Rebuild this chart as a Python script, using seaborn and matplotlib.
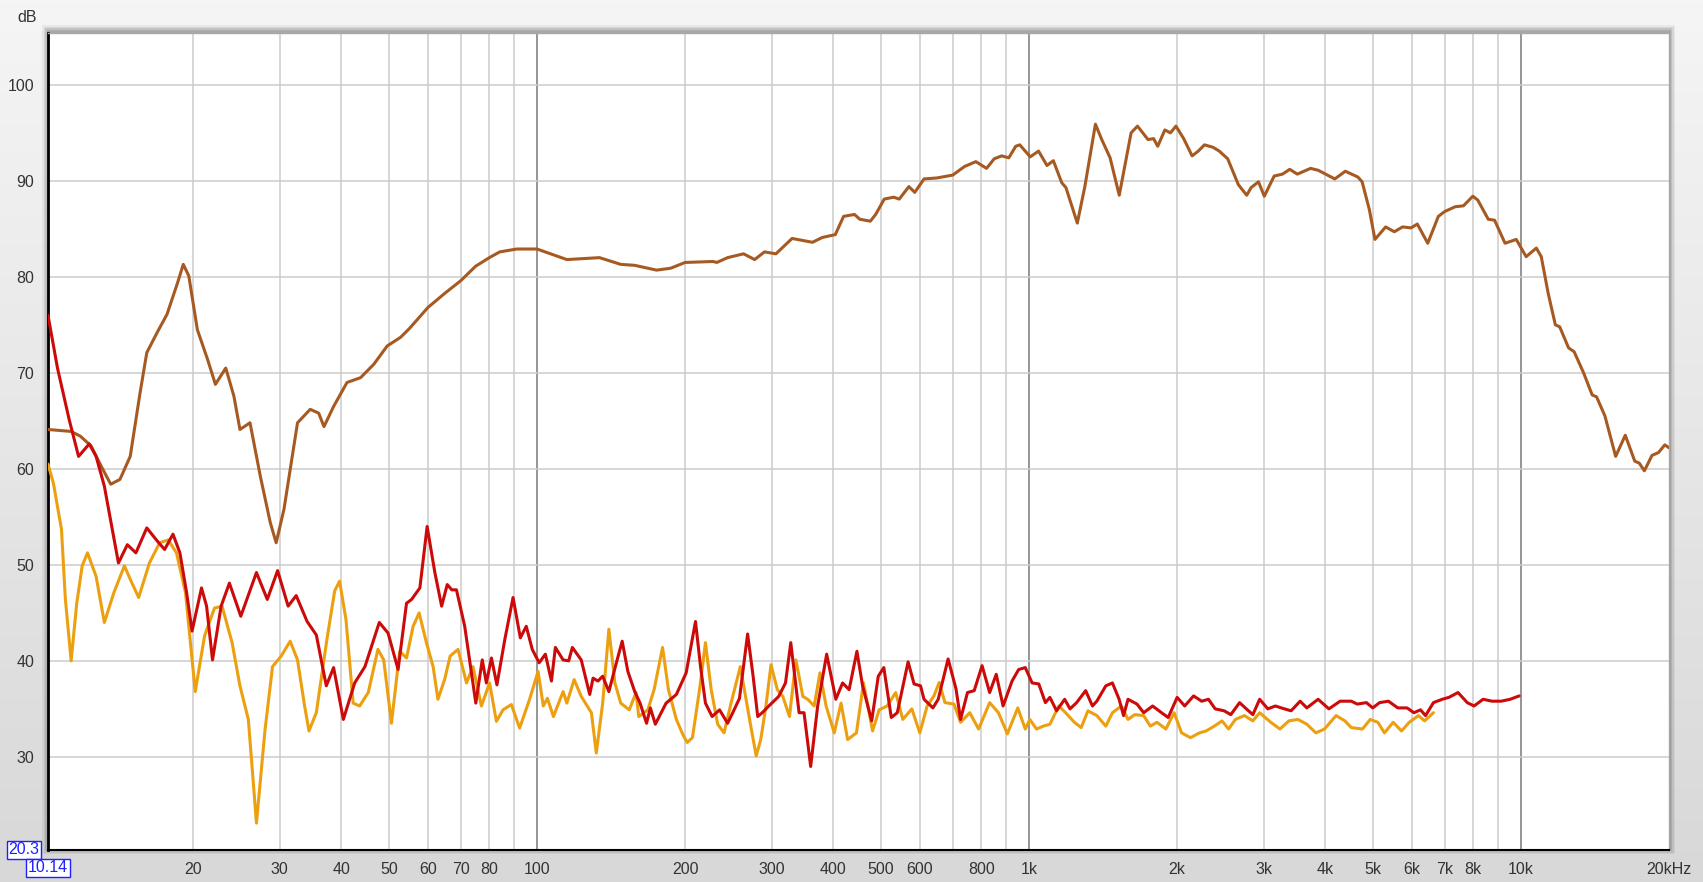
import numpy as np
import pandas as pd
import matplotlib
matplotlib.use("Agg")
import matplotlib.pyplot as plt
import seaborn as sns

# Frequency response curves (Hz, dB)
brown_freq = [10.14, 11.3, 11.8, 12.4, 13.0, 13.6, 14.2, 14.9, 15.6, 16.1, 16.9, 17.7, 18.6, 19.1,
              19.6, 20.4, 21.4, 22.2, 23.3, 24.2, 24.9, 26.1, 27.4, 28.7, 29.5, 30.6, 32.6, 34.6,
              36.0, 36.9, 38.6, 41.1, 43.8, 46.6, 49.6, 52.8, 55, 60, 65, 70, 75, 80, 84,
              91, 100, 115, 134, 148, 158, 175, 187, 200, 228, 232, 244, 263, 277, 290, 306,
              330, 363, 380, 404, 420, 442, 453, 476, 488, 508, 531, 545, 570, 586, 612, 650,
              700, 740, 780, 820, 850, 880, 910, 940, 958, 1006, 1046, 1088, 1121, 1166, 1189,
              1254, 1299, 1365, 1406, 1462, 1526, 1613, 1662, 1746, 1792, 1827, 1889, 1939,
              1990, 2063, 2146, 2209, 2274, 2366, 2437, 2535, 2665, 2771, 2829, 2928, 3009,
              3151, 3276, 3389, 3512, 3737, 3873, 4185, 4396, 4662, 4756, 4920, 5050, 5310,
              5530, 5747, 5980, 6158, 6466, 6795, 6997, 7349, 7643, 7984, 8172, 8583, 8840,
              9285, 9786, 10247, 10750, 11000, 11360, 11750, 11990, 12500, 12830, 13410,
              13960, 14250, 14820, 15580, 16300, 17040, 17400, 17820, 18470, 19040, 19610, 20000]
brown_db = [64.1, 63.9, 63.4, 62.4, 60.3, 58.4, 58.9, 61.3, 67.9, 72.1, 74.2, 76.1, 79.4, 81.3,
            80.1, 74.5, 71.4, 68.8, 70.5, 67.6, 64.1, 64.8, 59.2, 54.4, 52.3, 55.8, 64.8, 66.2,
            65.8, 64.4, 66.5, 69.0, 69.5, 70.9, 72.8, 73.7, 74.6, 76.8, 78.3, 79.6, 81.1, 82.0, 82.6,
            82.9, 82.9, 81.8, 82.0, 81.3, 81.2, 80.7, 80.9, 81.5, 81.6, 81.5, 82.0, 82.4, 81.8, 82.6, 82.4,
            84.0, 83.6, 84.1, 84.4, 86.3, 86.5, 86.0, 85.8, 86.5, 88.1, 88.3, 88.1, 89.4, 88.8, 90.2, 90.3,
            90.6, 91.5, 92.0, 91.3, 92.3, 92.6, 92.4, 93.6, 93.75, 92.5, 93.1, 91.6, 92.1, 89.8, 89.3,
            85.6, 89.4, 95.9, 94.3, 92.4, 88.5, 95.0, 95.7, 94.3, 94.4, 93.6, 95.3, 95.0,
            95.7, 94.4, 92.6, 93.1, 93.75, 93.5, 93.1, 92.3, 89.6, 88.5, 89.3, 89.9, 88.4,
            90.5, 90.7, 91.2, 90.7, 91.3, 91.1, 90.2, 91.0, 90.4, 89.9, 87.0, 83.9, 85.2,
            84.7, 85.2, 85.1, 85.5, 83.5, 86.3, 86.8, 87.3, 87.4, 88.4, 88.0, 86.0, 85.9,
            83.5, 83.9, 82.1, 83.0, 82.1, 78.3, 75.0, 74.8, 72.6, 72.2, 70.0,
            67.7, 67.5, 65.5, 61.3, 63.5, 60.8, 60.6, 59.8, 61.4, 61.7, 62.5, 62.2]

red_freq = [10.14, 10.6, 11.2, 11.7, 12.3, 12.7, 13.2, 13.7, 14.1, 14.7, 15.3, 16.1, 16.9, 17.5,
            18.2, 18.8, 19.4, 19.9, 20.8, 21.3, 21.9, 22.8, 23.7, 25.0, 26.9, 28.3, 29.7, 31.2,
            32.4, 34.1, 35.6, 37.3, 38.6, 40.4, 42.6, 44.7, 47.8, 49.8, 52.2, 54.3, 55.6, 57.8,
            59.8, 62.0, 64.0, 65.7, 67.1, 68.6, 71.3, 75.1, 77.4, 78.9, 80.8, 82.9, 86.0, 89.4,
            92.5, 95.1, 97.8, 101, 104, 107, 109, 113, 116, 118, 123, 128, 130, 133, 136, 140,
            145, 149, 153, 158, 162, 167, 170, 174, 183, 192, 201, 210, 215, 220, 227, 235, 244,
            250, 258, 268, 275, 281, 287, 296, 310, 320, 328, 341, 349, 360, 372, 388, 405, 418,
            431, 447, 459, 479, 494, 507, 525, 540, 568, 584, 602, 612, 638, 654, 685, 711, 726,
            750, 774, 803, 832, 858, 886, 924, 953, 983, 1015, 1047, 1080, 1103, 1138, 1182,
            1212, 1250, 1304, 1346, 1374, 1433, 1478, 1525, 1557, 1590, 1658, 1711, 1784, 1860,
            1919, 2001, 2073, 2161, 2244, 2317, 2391, 2493, 2572, 2680, 2766, 2852, 2944, 3059,
            3169, 3306, 3411, 3558, 3672, 3870, 4071, 4290, 4520, 4650, 4853, 4998, 5160, 5380,
            5620, 5870, 6060, 6250, 6400, 6640, 6920, 7140, 7450, 7780, 8030, 8380, 8740, 9120,
            9510, 9920]
red_db = [76.0, 70.5, 65.1, 61.3, 62.6, 61.3, 58.2, 53.7, 50.2, 52.1, 51.25, 53.85, 52.5, 51.6,
          53.2, 51.25, 47.1, 43.1, 47.6, 45.7, 40.1, 45.7, 48.1, 44.65, 49.2, 46.4, 49.4, 45.7,
          46.8, 44.1, 42.7, 37.4, 39.3, 33.9, 37.7, 39.4, 44.0, 42.9, 39.1, 46.0, 46.4, 47.6,
          54.0, 49.2, 45.7, 47.95, 47.4, 47.4, 43.6, 35.6, 40.1, 37.7, 40.3, 37.5, 42.2, 46.6,
          42.4, 43.6, 41.2, 39.8, 40.7, 37.9, 41.4, 40.1, 40.0, 41.4, 40.1, 36.5, 38.2, 37.9, 38.4, 36.8,
          39.8, 42.05, 38.9, 36.8, 35.6, 33.5, 35.1, 33.4, 35.6, 36.5, 38.75, 44.1, 39.4, 35.6, 34.2, 34.9, 33.5,
          34.6, 36.1, 42.8, 38.4, 34.2, 34.6, 35.3, 36.3, 37.7, 41.9, 34.6, 34.6, 29.0, 35.3, 40.7, 36.0, 37.7,
          37.0, 41.0, 37.4, 33.75, 38.4, 39.3, 34.1, 34.6, 39.9, 37.6, 37.4, 36.0, 35.1, 36.0, 40.2, 37.05, 33.9,
          36.7, 36.9, 39.5, 36.7, 38.6, 35.3, 37.9, 39.1, 39.3, 37.7, 37.6, 35.65, 36.2, 34.8, 36.0,
          35.0, 35.65, 36.9, 35.3, 35.8, 37.4, 37.7, 36.0, 34.3, 36.0, 35.5, 34.6, 35.3, 34.6,
          34.1, 36.2, 35.3, 36.35, 35.8, 36.0, 35.0, 34.8, 34.4, 35.65, 35.0, 34.4, 36.0, 35.0,
          35.3, 35.0, 34.8, 35.8, 35.1, 36.0, 35.0, 35.8, 35.8, 35.5, 35.65, 35.1, 35.65, 35.8,
          35.1, 35.1, 34.6, 34.9, 34.3, 35.65, 36.0, 36.2, 36.7, 35.65, 35.3, 36.0, 35.8, 35.8,
          36.0, 36.35]

orange_freq = [10.14, 10.4, 10.8, 11.0, 11.3, 11.6, 11.9, 12.2, 12.7, 13.2, 13.8, 14.5, 14.9, 15.5,
               16.3, 17.1, 17.8, 18.5, 19.3, 20.2, 21.1, 22.1, 22.9, 24.0, 24.9, 25.9, 26.9, 28.0,
               29.0, 30.2, 31.5, 32.6, 33.7, 34.4, 35.6, 37.4, 38.8, 39.7, 40.9, 42.3, 43.6, 45.4,
               47.5, 48.8, 50.6, 52.6, 54.3, 56.0, 57.6, 59.6, 61.5, 62.9, 64.9, 66.6, 69.1, 71.9,
               74.1, 77.1, 80.1, 82.7, 85.3, 88.7, 92.2, 96.6, 100.5, 103, 105, 108, 113, 115, 119,
               123, 129, 132, 136, 140, 144, 148, 154, 159, 161, 168, 173, 180, 185, 192, 198, 202,
               207, 214, 220, 226, 233, 240, 248, 259, 266, 272, 279, 285, 292, 299, 308, 316, 326,
               336, 347, 355, 366, 376, 387, 402, 415, 428, 446, 461, 481, 496, 515, 536, 554, 578,
               600, 621, 641, 657, 675, 704, 726, 758, 790, 832, 867, 904, 949, 983, 1004, 1036,
               1069, 1103, 1150, 1187, 1237, 1277, 1318, 1374, 1433, 1478, 1542, 1590, 1641, 1711,
               1765, 1820, 1898, 1973, 2043, 2130, 2221, 2292, 2381, 2469, 2546, 2628, 2741, 2852,
               2944, 3102, 3237, 3376, 3521, 3672, 3831, 3987, 4210, 4388, 4520, 4763, 4940, 5120,
               5280, 5500, 5720, 5930, 6190, 6370, 6640]
orange_db = [60.5, 58.5, 53.7, 46.4, 40.0, 46.0, 49.9, 51.25, 48.8, 44.0, 47.1, 49.9, 48.5, 46.6,
             50.2, 52.3, 52.6, 51.25, 47.1, 36.8, 42.6, 45.5, 45.7, 41.9, 37.4, 33.9, 23.1, 32.8,
             39.4, 40.5, 42.05, 40.1, 35.3, 32.7, 34.6, 42.2, 47.3, 48.3, 44.3, 35.6, 35.3, 36.7,
             41.2, 40.1, 33.5, 41.0, 40.3, 43.6, 45.0, 41.9, 39.4, 36.0, 38.05, 40.5, 41.2, 37.7,
             39.4, 35.3, 37.7, 33.7, 34.9, 35.45, 33.0, 36.0, 38.9, 35.3, 36.1, 34.2, 36.8, 35.6, 38.05,
             36.3, 34.6, 30.4, 35.6, 43.3, 37.7, 35.6, 34.9, 36.7, 34.2, 34.9, 37.0, 41.4, 37.0, 33.9, 32.3, 31.5,
             32.0, 37.0, 41.9, 37.0, 33.4, 32.5, 35.6, 39.4, 36.0, 33.2, 30.1, 31.8, 35.3, 39.6, 37.0, 36.3, 34.2,
             40.1, 36.3, 36.0, 35.3, 38.75, 35.3, 32.5, 35.6, 31.8, 32.5, 37.7, 32.7, 34.9, 35.3, 36.7, 33.9, 35.0,
             32.5, 35.3, 36.35, 37.75, 35.65, 35.5, 33.6, 34.6, 32.9, 35.65, 34.6, 32.4, 35.1, 32.9, 33.9, 32.9,
             33.2, 33.4, 35.3, 34.6, 33.6, 33.05, 34.8, 34.3, 33.2, 34.6, 35.3, 33.9, 34.4, 34.3,
             33.2, 33.6, 32.9, 34.6, 32.5, 32.0, 32.5, 32.7, 33.2, 33.75, 32.9, 33.9, 34.3, 33.75,
             34.6, 33.6, 32.9, 33.75, 33.9, 33.4, 32.5, 32.9, 34.3, 33.75, 33.05, 32.9, 33.9, 33.6,
             32.5, 33.6, 32.7, 33.6, 34.3, 33.75, 34.6]

grid_freqs = [20, 30, 40, 50, 60, 70, 80, 90, 200, 300, 400, 500, 600, 700, 800, 900,
              2000, 3000, 4000, 5000, 6000, 7000, 8000, 9000]
decade_freqs = [100, 1000, 10000]
xtick_pos = [20, 30, 40, 50, 60, 70, 80, 100, 200, 300, 400, 500, 600, 800, 1000,
             2000, 3000, 4000, 5000, 6000, 7000, 8000, 10000, 20000]
xtick_labels = ["20", "30", "40", "50", "60", "70", "80", "100", "200", "300", "400", "500",
                "600", "800", "1k", "2k", "3k", "4k", "5k", "6k", "7k", "8k", "10k", "20kHz"]
ytick_pos = [30, 40, 50, 60, 70, 80, 90, 100]

sns.set_style("white")
plt.rcParams["font.family"] = ["Liberation Sans", "DejaVu Sans"]

W, H = 1703, 882
fig = plt.figure(figsize=(W / 100, H / 100), dpi=100)

# gradient background
bg = fig.add_axes([0, 0, 1, 1], zorder=-10)
grad = np.linspace(0, 1, 256).reshape(-1, 1)
bg.imshow(grad, aspect="auto", cmap=matplotlib.colors.LinearSegmentedColormap.from_list(
    "bg", ["#f5f5f5", "#d8d8d8"]), extent=[0, 1, 0, 1])
bg.set_axis_off()

L, R, T, B = 48, 1669, 33, 850
pos = [L / W, 1 - B / H, (R - L) / W, (B - T) / H]

# drop shadow around the plot box
for i, a in enumerate([0.05, 0.07, 0.09, 0.12]):
    d = (4 - i) * 1.5
    bg.add_patch(plt.Rectangle(((L - d) / W, 1 - (B + d - 2) / H), (R - L + 2 * d) / W,
                               (B - T + 2 * d) / H, transform=fig.transFigure,
                               color="black", alpha=a, lw=0))

ax = fig.add_axes(pos)
ax.set_facecolor("white")

for f in grid_freqs:
    ax.axvline(f, color="#cccccc", lw=1.1, zorder=0)
for f in decade_freqs:
    ax.axvline(f, color="#8c8c8c", lw=1.3, zorder=0)
for y in ytick_pos:
    ax.axhline(y, color="#cccccc", lw=1.1, zorder=0)

curves = [
    (brown_freq, brown_db, "#a65a22"),
    (orange_freq, orange_db, "#eca010"),
    (red_freq, red_db, "#cc0a0a"),
]
for fr, db, col in curves:
    df = pd.DataFrame({"freq": fr, "db": db})
    sns.lineplot(data=df, x="freq", y="db", ax=ax, color=col, linewidth=2.2,
                 estimator=None, sort=False, zorder=3)

ax.set_xscale("log")
ax.set_xlim(10.14, 20000)
ax.set_ylim(20.3, 105.4)
ax.set_xticks(xtick_pos)
ax.set_xticklabels(xtick_labels)
ax.xaxis.set_minor_locator(matplotlib.ticker.NullLocator())
ax.set_yticks(ytick_pos)
ax.tick_params(axis="both", length=0, labelsize=11.5, colors="#333333")
ax.tick_params(axis="x", pad=9)
ax.tick_params(axis="y", pad=10)
ax.set_xlabel("")
ax.set_ylabel("")
ax.spines["left"].set_color("black")
ax.spines["left"].set_linewidth(2.0)
ax.spines["bottom"].set_color("black")
ax.spines["bottom"].set_linewidth(1.5)
for s in ["top", "right"]:
    ax.spines[s].set_color("#a8a8a8")
    ax.spines[s].set_linewidth(1.0)

fig.text(27 / W, 1 - 18 / H, "dB", ha="center", va="center", fontsize=11.5, color="#333333")

box = dict(boxstyle="square,pad=0.12", facecolor="white", edgecolor="#2020ff", lw=1.0)
fig.text(24 / W, 1 - 850 / H, "20.3", ha="center", va="center", fontsize=11.5,
         color="#2020ff", bbox=box)
fig.text(48 / W, 1 - 868 / H, "10.14", ha="center", va="center", fontsize=11.5,
         color="#2020ff", bbox=box)

fig.savefig("out.png", dpi=100)
